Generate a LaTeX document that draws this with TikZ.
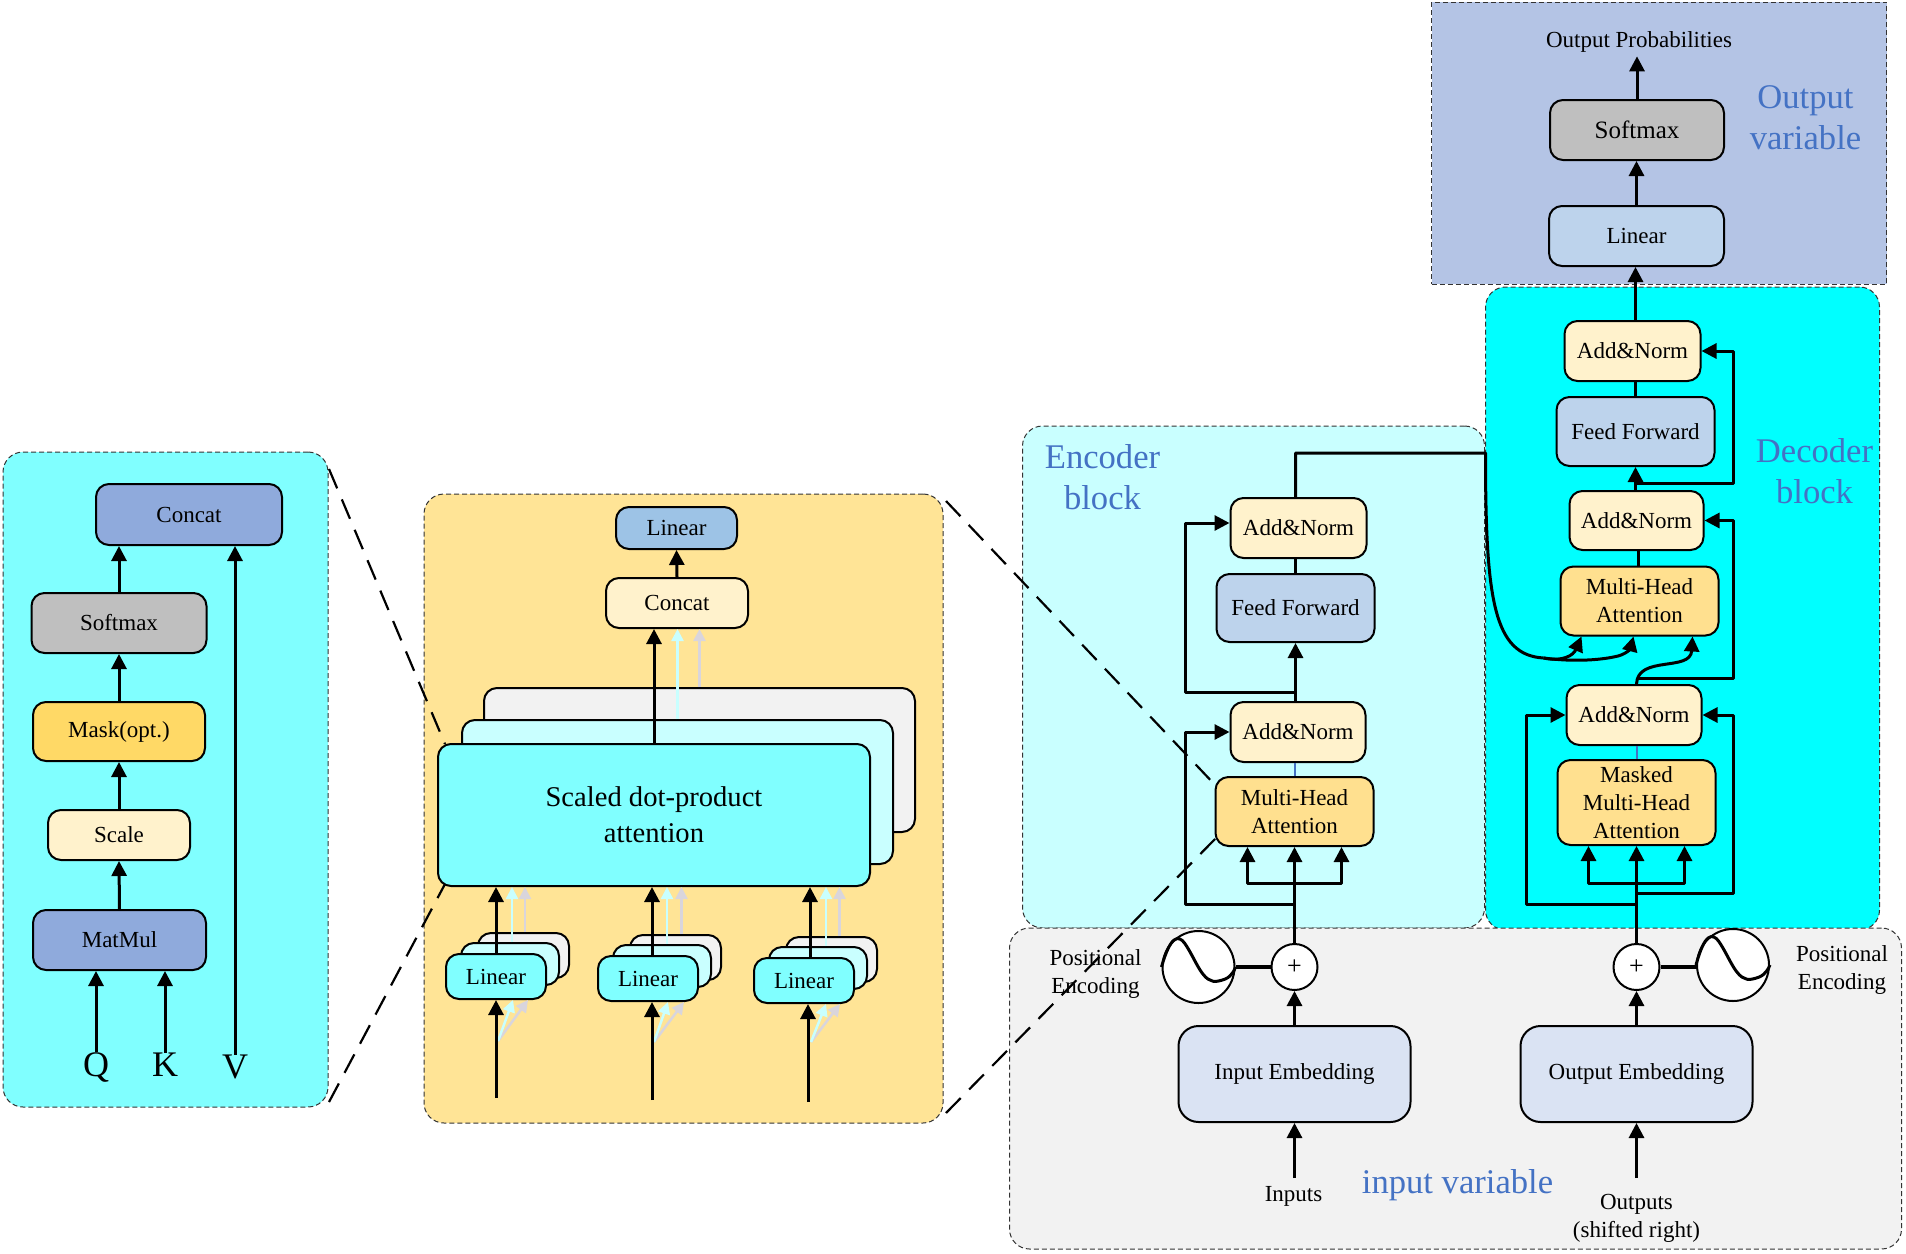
\documentclass[tikz,border=0pt]{standalone}
\usepackage{fontspec}
\setmainfont{Liberation Serif}
\usetikzlibrary{arrows.meta}
\definecolor{halfcyan}{HTML}{80FFFF}
\definecolor{palecyan}{HTML}{C9FFFF}
\definecolor{fullcyan}{HTML}{00FFFF}
\definecolor{sandfill}{HTML}{FFE496}
\definecolor{outfill}{HTML}{B4C4E5}
\definecolor{inputfill}{HTML}{F2F2F2}
\definecolor{bluetext}{HTML}{4472C4}
\definecolor{matfill}{HTML}{8FAADC}
\definecolor{softfill}{HTML}{BFBFBF}
\definecolor{maskfill}{HTML}{FFD966}
\definecolor{creamfill}{HTML}{FFF2CC}
\definecolor{attfill}{HTML}{FFE08F}
\definecolor{forwardfill}{HTML}{BDD3EC}
\definecolor{linfill}{HTML}{9DC3E6}
\definecolor{embedfill}{HTML}{DAE3F3}
\definecolor{greylink}{HTML}{D9D5DC}
\tikzset{
	sz/.style 2 args={minimum width=#1pt,minimum height=#2pt},
	panel/.style={draw=black!80,line width=0.5pt,dash pattern=on 2.5pt off 1.5pt,rounded corners=10pt,inner sep=0pt},
	block/.style={draw,line width=1pt,rounded corners=6.5pt,inner sep=0pt,align=center,font=\fontsize{11.5}{14}\selectfont},
	lbl/.style={inner sep=0pt,align=center,font=\fontsize{11.5}{14}\selectfont},
	bluelbl/.style={inner sep=0pt,align=center,text=bluetext,font=\fontsize{17.3}{20.5}\selectfont},
	symbol/.style={draw,circle,fill=white,line width=1pt,inner sep=0pt},
	wire/.style={line width=1.5pt,line join=round},
	arr/.style={wire,-{Triangle[width=7.5pt,length=7.5pt]}},
	lightarr/.style={line width=1.25pt,-{Triangle[width=6pt,length=6pt]}},
	zoomline/.style={line width=1.1pt,dash pattern=on 10.5pt off 6pt}
}
\begin{document}
\begin{tikzpicture}[x=0.5pt,y=-0.5pt]
	\useasboundingbox (0,0) rectangle (1906,1253);
	\node[panel,fill=halfcyan,sz={162.5}{327.5}] (leftpanel) at (165.5,779.5) {};
	\node[panel,fill=sandfill,sz={259.5}{314.5}] (midpanel) at (683.5,808.5) {};
	\begin{scope}[xshift=-0.75pt]
	\node[panel,fill=palecyan,sz={231}{251}] (encpanel) at (1255,677) {};
	\node[panel,fill=fullcyan,sz={197}{321.5}] (decpanel) at (1684,608.5) {};
	\node[panel,fill=outfill,sz={227.5}{141},rounded corners=0pt] (outpanel) at (1660.5,143) {};
	\node[panel,fill=inputfill,sz={446}{160.5}] (inpanel) at (1457,1088.5) {};
	\end{scope}
	\coordinate (zoomaa) at (329,469);
	\coordinate (zoomab) at (445,744);
	\coordinate (zoomac) at (329,1102);
	\coordinate (zoomad) at (445,884);
	\coordinate (zoomba) at (946,501);
	\coordinate (zoombb) at (1217,787);
	\coordinate (zoombc) at (946,1113);
	\coordinate (zoombd) at (1217,837);
	\draw[zoomline] (zoomaa) -- (zoomab);
	\draw[zoomline] (zoomac) -- (zoomad);
	\draw[zoomline] (zoomba) -- (zoombb);
	\draw[zoomline] (zoombc) -- (zoombd);
	\node[block,fill=matfill,sz={93}{30.5}] (concatl) at (189,514.5) {Concat};
	\node[block,fill=softfill,sz={87.5}{30}] (softl) at (119,623) {Softmax};
	\node[block,fill=maskfill,sz={86}{29.5}] (maskl) at (119,731.5) {Mask(opt.)};
	\node[block,fill=creamfill,sz={71}{25}] (scalel) at (119,835) {Scale};
	\node[block,fill=matfill,sz={86.5}{30}] (matmul) at (119.5,940) {MatMul};
	\node[inner sep=0pt,font=\fontsize{18}{20}\selectfont] (q) at (96,1067) {Q};
	\node[inner sep=0pt,font=\fontsize{18}{20}\selectfont] (k) at (165,1065) {K};
	\node[inner sep=0pt,font=\fontsize{18}{20}\selectfont] (v) at (235,1067) {V};
	\draw[arr] (q.north) -- (q.north |- matmul.south);
	\draw[arr] (k.north) -- (k.north |- matmul.south);
	\draw[arr] (v.north) -- (v.north |- concatl.south);
	\draw[arr] (matmul.north) -- (scalel.south);
	\draw[arr] (scalel.north) -- (maskl.south);
	\draw[arr] (maskl.north) -- (softl.south);
	\draw[arr] (softl.north) -- (softl.north |- concatl.south);
	\node[block,fill=linfill,sz={60.5}{21}] (linearm) at (676.5,528) {Linear};
	\node[block,fill=creamfill,sz={71}{25}] (concatm) at (677,603) {Concat};
	\node[block,fill=inputfill,sz={215.5}{72}] (scaledc) at (699.5,760) {};
	\node[block,fill=palecyan,sz={215.5}{72}] (scaledb) at (677.5,792) {};
	\node[block,fill=halfcyan,sz={216}{71},font=\fontsize{14.3}{18}\selectfont] (scaled) at (654,815) {Scaled dot-product\\attention};
	\draw[arr] (concatm.north) -- (linearm.south);
	\draw[arr] (scaled.north) -- (scaled.north |- concatm.south);
	\draw[lightarr,palecyan] (scaledb.north) -- (scaledb.north |- concatm.south);
	\draw[lightarr,greylink] (scaledc.north) -- (scaledc.north |- concatm.south);
	\node[block,fill=inputfill,sz={45.5}{22.5}] (linearac) at (523.5,955.5) {};
	\node[block,fill=palecyan,sz={49}{21}] (linearab) at (510,964) {};
	\node[block,fill=halfcyan,sz={50}{22.5}] (lineara) at (496,976.5) {Linear};
	\node[block,fill=inputfill,sz={45.5}{22.5}] (linearbc) at (675.5,957.5) {};
	\node[block,fill=palecyan,sz={49}{21}] (linearbb) at (662,966) {};
	\node[block,fill=halfcyan,sz={50}{22.5}] (linearb) at (648,978.5) {Linear};
	\node[block,fill=inputfill,sz={45.5}{22.5}] (linearcc) at (831.5,959.5) {};
	\node[block,fill=palecyan,sz={49}{21}] (linearcb) at (818,968) {};
	\node[block,fill=halfcyan,sz={50}{22.5}] (linearc) at (804,980.5) {Linear};
	\coordinate (ina) at (496,1098);
	\coordinate (inb) at (652,1100);
	\coordinate (inc) at (808,1102);
	\coordinate (fana) at (498,1041);
	\coordinate (fanb) at (654,1042);
	\coordinate (fanc) at (811,1042);
	\draw[lightarr,palecyan] ([xshift=1pt]linearab.north) -- ([xshift=1pt]linearab.north |- scaled.south);
	\draw[lightarr,greylink] ([xshift=0.75pt]linearac.north) -- ([xshift=0.75pt]linearac.north |- scaled.south);
	\draw[lightarr,palecyan] ([xshift=2.5pt]linearbb.north) -- ([xshift=2.5pt]linearbb.north |- scaled.south);
	\draw[lightarr,greylink] ([xshift=3pt]linearbc.north) -- ([xshift=3pt]linearbc.north |- scaled.south);
	\draw[lightarr,palecyan] ([xshift=4pt]linearcb.north) -- ([xshift=4pt]linearcb.north |- scaled.south);
	\draw[lightarr,greylink] ([xshift=4pt]linearcc.north) -- ([xshift=4pt]linearcc.north |- scaled.south);
	\draw[lightarr,greylink] (fana) -- ([xshift=16pt]lineara.south);
	\draw[lightarr,palecyan] (fana) -- ([xshift=8.5pt]lineara.south);
	\draw[lightarr,greylink] (fanb) -- ([xshift=18pt]linearb.south);
	\draw[lightarr,palecyan] (fanb) -- ([xshift=10pt]linearb.south);
	\draw[lightarr,greylink] (fanc) -- ([xshift=18pt]linearc.south);
	\draw[lightarr,palecyan] (fanc) -- ([xshift=11pt]linearc.south);
	\draw[arr] (lineara.north) -- (lineara.north |- scaled.south);
	\draw[arr] ([xshift=2pt]linearb.north) -- ([xshift=2pt]linearb.north |- scaled.south);
	\draw[arr] ([xshift=3pt]linearc.north) -- ([xshift=3pt]linearc.north |- scaled.south);
	\draw[arr] (ina) -- (ina |- lineara.south);
	\draw[arr] (inb) -- (inb |- linearb.south);
	\draw[arr] (inc) -- (inc |- linearc.south);
	\begin{scope}[xshift=-0.75pt]
	\node[lbl] (positionala) at (1097,973.5) {Positional\\Encoding};
	\node[lbl] (positionalb) at (1843.5,969.5) {Positional\\Encoding};
	\node[lbl] (inputs) at (1295,1196.5) {Inputs};
	\node[lbl] (outputs) at (1638,1218) {Outputs\\(shifted right)};
	\node[lbl,inner sep=2pt] (prob) at (1640.5,41.5) {Output Probabilities};
	\node[bluelbl] (inlabel) at (1459,1185.5) {input variable};
	\node[bluelbl] (enclabel) at (1104,477) {Encoder\\block};
	\node[bluelbl] (declabel) at (1816,471) {Decoder\\block};
	\node[bluelbl] (outlabel) at (1807,118) {Output\\variable};
	\node[block,fill=softfill,sz={87}{30},font=\fontsize{12.5}{15}\selectfont] (softo) at (1638.5,130) {Softmax};
	\node[block,fill=forwardfill,sz={87.5}{30}] (lino) at (1638,236) {Linear};
	\node[block,fill=creamfill,sz={68}{30}] (addd3) at (1634,351) {Add\&Norm};
	\node[block,fill=forwardfill,sz={79}{34.5}] (ffd) at (1637,431.5) {Feed Forward};
	\node[block,fill=creamfill,sz={67}{29.5}] (addd2) at (1638,520.5) {Add\&Norm};
	\node[block,fill=attfill,sz={79}{34.5}] (mhad) at (1641,601) {Multi-Head\\Attention};
	\node[block,fill=creamfill,sz={67.5}{30}] (addd1) at (1635.5,715) {Add\&Norm};
	\node[block,fill=attfill,sz={79}{42.5}] (maskd) at (1638,802.5) {Masked\\Multi-Head\\Attention};
	\node[block,fill=creamfill,sz={68}{30}] (adde2) at (1300,528) {Add\&Norm};
	\node[block,fill=forwardfill,sz={79}{34}] (ffe) at (1297,608) {Feed Forward};
	\node[block,fill=creamfill,sz={67.5}{30}] (adde1) at (1299.5,732) {Add\&Norm};
	\node[block,fill=attfill,sz={79}{34.5}] (mhae) at (1296,811.5) {Multi-Head\\Attention};
	\node[block,fill=embedfill,sz={116}{48},rounded corners=10pt] (embi) at (1296,1074) {Input Embedding};
	\node[block,fill=embedfill,sz={116}{48},rounded corners=10pt] (embo) at (1638,1074) {Output Embedding};
	\node[symbol,minimum size=23pt,font=\fontsize{13}{13}\selectfont] (plusa) at (1296,967) {+};
	\node[symbol,minimum size=23pt,font=\fontsize{13}{13}\selectfont] (plusb) at (1638,967) {+};
	\node[symbol,minimum size=36pt] (sinea) at (1200,967) {};
	\node[symbol,minimum size=36pt] (sineb) at (1734.5,965) {};
	\draw[wire] (sinea.west) .. controls (1172,935) and (1180,935) .. (1186,943) .. controls (1198,960) and (1204,985) .. (1220,981) .. controls (1230,979) and (1234,975) .. (sinea.east);
	\draw[wire] (sineb.west) .. controls (1706,933) and (1714,933) .. (1720,941) .. controls (1732,958) and (1738,983) .. (1754,979) .. controls (1764,977) and (1768,973) .. (sineb.east);
	\draw[wire,line width=2pt] (sinea.east) -- (plusa.west);
	\draw[wire,line width=2pt] (plusb.east) -- (plusb.east -| sineb.west);
	\coordinate (inputsfoot) at (1296,1178);
	\coordinate (outputsfoot) at (1638,1178);
	\draw[arr] (inputsfoot) -- (embi.south);
	\draw[arr] (outputsfoot) -- (embo.south);
	\draw[arr] (embi.north) -- (plusa.south);
	\draw[arr] (embo.north) -- (plusb.south);
	\draw[arr] (plusa.north) -- (mhae.south);
	\coordinate (ebus) at (1296,883);
	\draw[arr] (ebus) -| ([xshift=-23.5pt]mhae.south);
	\draw[arr] (ebus) -| ([xshift=23.5pt]mhae.south);
	\coordinate (ela) at (1187,904.5);
	\coordinate (elb) at (1187,692);
	\draw[arr] (plusa.north |- ela) -- (ela) |- (adde1.west);
	\draw[wire,bluetext,line width=1pt] (mhae.north) -- (mhae.north |- adde1.south);
	\draw[arr] (ffe.south |- adde1.north) -- (ffe.south);
	\draw[arr] (ffe.south |- elb) -- (elb) |- ([yshift=2.5pt]adde2.west);
	\draw[wire] (ffe.north) -- (ffe.north |- adde2.south);
	\coordinate (crossa) at (1487,453);
	\coordinate (crossb) at (1545,658);
	\draw[wire] (ffe.north |- adde2.north) |- (crossa) .. controls (1487,600) and (1495,655) .. (crossb);
	\draw[arr] (crossb) .. controls (1565,662) and (1575,655) .. ([xshift=-29pt]mhad.south);
	\draw[arr] (crossb) .. controls (1575,662) and (1600,660) .. (1615,657) .. controls (1628,655) and (1632,648) .. ([xshift=-3pt]mhad.south);
	\draw[arr] (plusb.north) -- (maskd.south);
	\coordinate (dbus) at (1638,883);
	\draw[arr] (dbus) -| ([xshift=-24pt]maskd.south);
	\draw[arr] (dbus) -| ([xshift=24pt]maskd.south);
	\coordinate (dla) at (1527.5,904);
	\coordinate (dra) at (1735,893.5);
	\coordinate (drb) at (1735,678.5);
	\coordinate (drc) at (1735,483);
	\draw[arr] (plusb.north |- dla) -- (dla) |- (addd1.west);
	\draw[arr] (plusb.north |- dra) -- (dra) |- (addd1.east);
	\draw[wire,bluetext,line width=1pt] (maskd.north) -- (maskd.north |- addd1.south);
	\draw[arr] (maskd.north |- drb) -- (drb) |- (addd2.east);
	\draw[arr] (addd1.north -| maskd.north) .. controls (1639,655) and (1692,672) .. ([xshift=26.5pt]mhad.south);
	\draw[wire] ([xshift=1pt]addd2.south) -- ([xshift=1pt]addd2.south |- mhad.north);
	\draw[arr] (ffd.south |- addd2.north) -- (ffd.south);
	\draw[arr] (ffd.south |- drc) -- (drc) |- (addd3.east);
	\draw[wire] (ffd.north) -- (ffd.north |- addd3.south);
	\draw[arr] (ffd.north |- addd3.north) -- (ffd.north |- lino.south);
	\draw[arr] (lino.north) -- (lino.north |- softo.south);
	\draw[arr] (softo.north) -- (softo.north |- prob.south);
	\end{scope}
\end{tikzpicture}
\end{document}
